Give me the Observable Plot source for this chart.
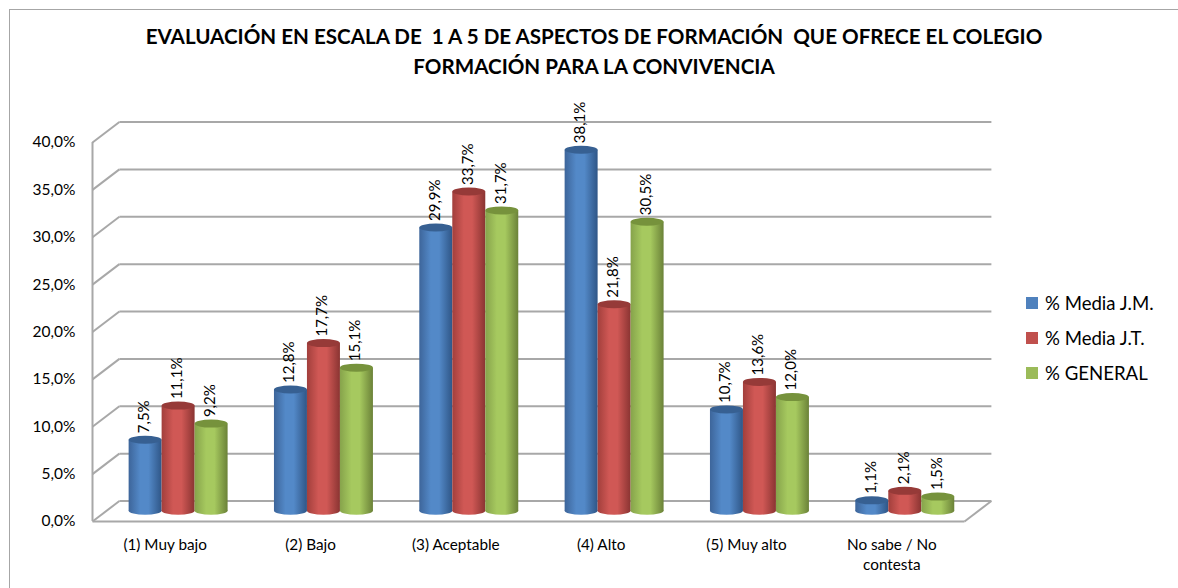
<!DOCTYPE html>
<html lang="es">
<head>
<meta charset="utf-8">
<script src="https://cdn.jsdelivr.net/npm/d3@7"></script>
<script src="https://cdn.jsdelivr.net/npm/@observablehq/plot@0.6"></script>
<style>
  html, body { margin: 0; padding: 0; background: #fff; overflow: hidden; }
  #page { position: relative; width: 1178px; height: 588px; font-family: Lato, "Noto Sans", sans-serif; color: #000; }
  #edge { position: absolute; left: 9px; top: 9px; right: -4px; bottom: -4px; border: 1.5px solid #a6a6a6; }
  #title { position: relative; height: 92px; box-sizing: border-box; padding-top: 21px; text-align: center; font-weight: 700; font-size: 20.6px; line-height: 30px; padding-left: 37px; padding-right: 27px; white-space: nowrap; }
  #chart svg { display: block; }
  #legend { position: absolute; left: 1026px; top: 285.5px; font-size: 18.6px; }
  #legend div { display: flex; align-items: center; height: 35px; white-space: nowrap; }
  #legend i { display: block; width: 12px; height: 12px; margin-right: 7px; }
</style>
</head>
<body>
<div id="page">
  <div id="edge"></div>
  <div id="title">EVALUACIÓN EN ESCALA DE&nbsp; 1 A 5 DE ASPECTOS DE FORMACIÓN&nbsp; QUE OFRECE EL COLEGIO<br>FORMACIÓN PARA LA CONVIVENCIA</div>
  <div id="chart"></div>
  <div id="legend"></div>
</div>
<script>
const categories = ["(1) Muy bajo", "(2) Bajo", "(3) Aceptable", "(4) Alto", "(5) Muy alto", "No sabe / No\ncontesta"];
const seriesNames = ["% Media J.M.", "% Media J.T.", "% GENERAL"];
const mediaJM = [7.5, 12.8, 29.9, 38.1, 10.7, 1.1];
const mediaJT = [11.1, 17.7, 33.7, 21.8, 13.6, 2.1];
const general = [9.2, 15.1, 31.7, 30.5, 12.0, 1.5];
const yTicks = [0, 5, 10, 15, 20, 25, 30, 35, 40];
const seriesValues = [mediaJM, mediaJT, general];

const swatches = ["#4F81BD", "#C0504D", "#9BBB59"];
const palettes = [
  { id: "cylBlue",  edge: "#3d659a", mid: "#5389c8", dark: "#2f5687", top: "#376092" },
  { id: "cylRed",   edge: "#a23f3c", mid: "#d05855", dark: "#8a3432", top: "#963a38" },
  { id: "cylGreen", edge: "#86a34b", mid: "#a6c95f", dark: "#6b8238", top: "#76923c" }
];

// Oblique depth of the 3D box, in data units of the x and y scales.
const depthX = 0.185, depthY = 2.16;
const barWidth = 0.227;

const rows = seriesValues.map((vals, k) => vals.map((v, i) => {
  const c = i + 0.5 + depthX / 2 + (k - 1) * barWidth;
  return { k, v, x1: c - barWidth / 2, x2: c + barWidth / 2, xc: c, y1: depthY / 2, y2: v + depthY / 2 };
}));

const cylinder = (palette) => (index, scales, values, dimensions, context, next) => {
  const g = next(index, scales, values, dimensions, context);
  const sel = d3.select(g);
  for (const i of index) {
    const cx = (values.x1[i] + values.x2[i]) / 2;
    const rx = Math.abs(values.x2[i] - values.x1[i]) / 2;
    sel.insert("ellipse", ":first-child").attr("cx", cx).attr("cy", values.y1[i]).attr("rx", rx).attr("ry", 4).attr("fill", `url(#${palette.id})`);
    sel.append("ellipse").attr("cx", cx).attr("cy", values.y2[i]).attr("rx", rx).attr("ry", 4).attr("fill", palette.top);
  }
  return g;
};

const wallStyle = { stroke: "#a8a8a8", strokeWidth: 2 };
const fmt = (v) => v.toFixed(1).replace(".", ",") + "%";

const plot = Plot.plot({
  width: 1178,
  height: 496,
  marginTop: 50,
  marginBottom: 67,
  marginLeft: 92,
  marginRight: 214,
  style: { fontFamily: 'Lato, "Noto Sans", sans-serif', fontSize: "14px", color: "#000", background: "transparent", overflow: "visible" },
  x: { domain: [0, 6], axis: null },
  y: { domain: [0, 40] },
  marks: [
    // back wall gridlines
    Plot.link(yTicks, { x1: depthX, x2: 6 + depthX, y1: (v) => v + depthY, y2: (v) => v + depthY, ...wallStyle }),
    // side wall diagonals
    Plot.link(yTicks, { x1: 0, x2: depthX, y1: (v) => v, y2: (v) => v + depthY, ...wallStyle }),
    // front vertical edge
    Plot.ruleX([0], { y1: 0, y2: 40, ...wallStyle }),
    // floor front edge and right diagonal
    Plot.link([0], { x1: 0, x2: 6, y1: 0, y2: 0, ...wallStyle }),
    Plot.link([0], { x1: 6, x2: 6 + depthX, y1: 0, y2: depthY, ...wallStyle }),
    Plot.axisY({ ticks: yTicks, tickFormat: (v) => v.toFixed(1).replace(".", ",") + "%", tickSize: 0, tickPadding: 17, label: null, fontSize: 15.5 }),
    // category labels
    Plot.text(categories, { x: (d, i) => i + 0.5, y: 0, dy: 14, text: (d) => d, lineAnchor: "top", textAnchor: "middle", fontSize: 15.3, lineHeight: 1.3 }),
    // cylinders
    ...rows.map((r, k) => Plot.rect(r, {
      x1: "x1", x2: "x2", y1: "y1", y2: "y2",
      fill: `url(#${palettes[k].id})`,
      render: cylinder(palettes[k])
    })),
    // value labels
    ...rows.map((r) => Plot.text(r, {
      x: "xc", y: "y2", text: (d) => fmt(d.v),
      rotate: -90, textAnchor: "start", lineAnchor: "middle", dx: -1.5, dy: -7, fontSize: 15, fill: "#000"
    }))
  ]
});

// cylinder shading
const defs = d3.select(plot).insert("defs", ":first-child");
for (const p of palettes) {
  const lg = defs.append("linearGradient").attr("id", p.id).attr("x1", 0).attr("x2", 1).attr("y1", 0).attr("y2", 0);
  [[0, p.edge], [0.35, p.mid], [0.6, p.mid], [1, p.dark]].forEach(([o, c]) => lg.append("stop").attr("offset", o).attr("stop-color", c));
}
document.getElementById("chart").append(plot);

const legend = d3.select("#legend");
seriesNames.forEach((name, k) => {
  const row = legend.append("div");
  row.append("i").style("background", swatches[k]);
  row.append("span").text(name);
});
</script>
</body>
</html>
